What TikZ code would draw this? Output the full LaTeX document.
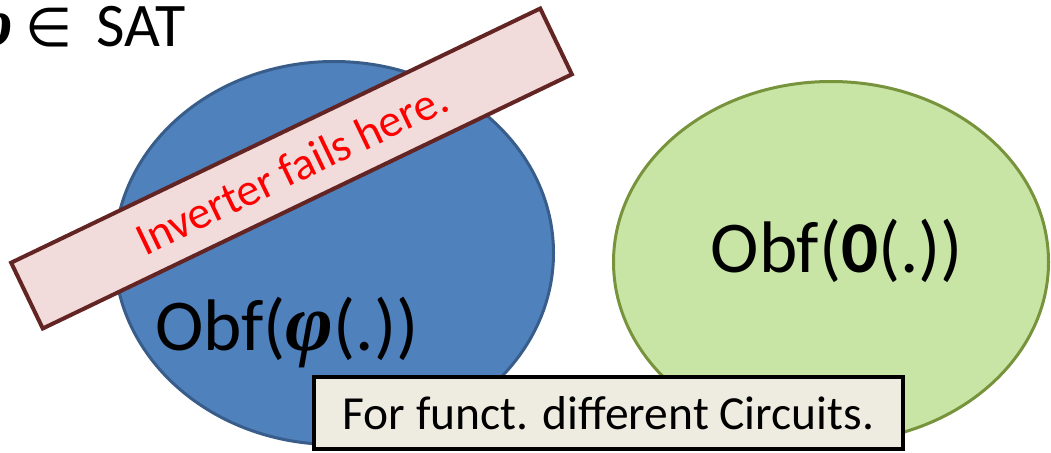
\documentclass[tikz,border=0pt]{standalone}
\usepackage{fontspec}
\setmainfont{Carlito}
\newfontfamily\greekfont{Liberation Serif}
\newfontfamily\symfont{DejaVu Sans}
\usetikzlibrary{shapes.geometric}

\definecolor{bluefill}{RGB}{79,129,189}
\definecolor{blueedge}{RGB}{56,93,138}
\definecolor{greenfill}{RGB}{200,229,166}
\definecolor{greenedge}{RGB}{119,147,60}
\definecolor{warnfill}{RGB}{242,220,219}
\definecolor{warnedge}{RGB}{99,37,35}
\definecolor{notefill}{RGB}{238,236,225}

% bold italic phi, a little larger than the surrounding text
\newcommand{\bphi}{{\greekfont\bfseries\itshape\scalebox{1.12}{φ}}}

\tikzset{
  blob/.style={ellipse, inner sep=0pt, line width=3pt},
  bigtext/.style={font=\fontsize{73}{87}\selectfont, inner sep=0pt},
  banner/.style={rectangle, inner sep=0pt, line width=4pt, align=center},
}

\begin{document}
\begin{tikzpicture}[x=1pt, y=-1pt]
\useasboundingbox (0,0) rectangle (1051,452);
\clip (0,0) rectangle (1051,452);

% heading, running off the left edge
\node[anchor=base east, inner sep=0pt, font=\fontsize{62}{74}\selectfont]
  (head) at (186,47) {\bphi\hspace{12pt}{\symfont\fontsize{54}{64}\selectfont ∈}\hspace{24pt}SAT};

% the two sets
\node[blob, draw=blueedge, fill=bluefill, minimum width=439pt, minimum height=383pt]
  (phiset) at (334,253) {};
\node[blob, draw=greenedge, fill=greenfill, minimum width=435pt, minimum height=361pt]
  (zeroset) at (831,262) {};

% slanted banner across the left set
\node[banner, draw=warnedge, fill=warnfill, rotate=25.66,
      minimum width=587pt, minimum height=73pt,
      text=red, font=\fontsize{46}{55}\selectfont]
  (warn) at (291.5,168.5) {Inverter fails here.};

% set labels
\node[bigtext, anchor=base] (philabel) at (287,350) {Obf(\bphi(.))};
\node[bigtext, anchor=base] (zerolabel) at (837,272) {Obf(\textbf{0}(.))};

% note box at the bottom
\node[banner, draw=black, fill=notefill, minimum width=589pt, minimum height=72pt,
      font=\fontsize{47.5}{57}\selectfont]
  (note) at (608.5,413) {For funct. different Circuits.};
\end{tikzpicture}
\end{document}
